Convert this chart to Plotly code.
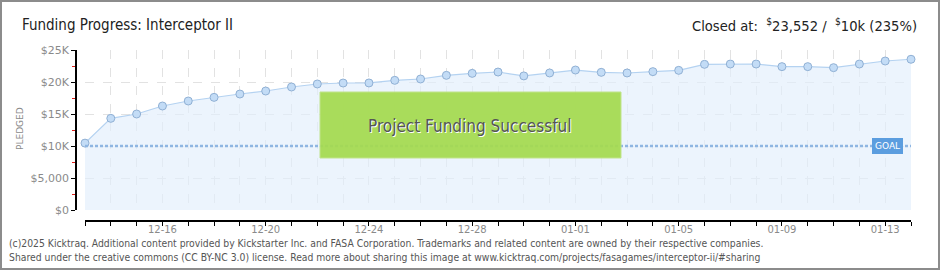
import plotly.graph_objects as go
import pandas as pd

# ---------------- data ----------------
dates = list(pd.date_range("2024-12-13", "2025-01-14", freq="D"))
pledged = [10450, 14320, 15000, 16250, 17030, 17600, 18120, 18590, 19220, 19690,
           19840, 19850, 20260, 20470, 21040, 21350, 21560, 20950, 21410, 21870,
           21510, 21410, 21620, 21820, 22760, 22810, 22810, 22400, 22400, 22240,
           22810, 23280, 23552]
goal = 10000
ytick_vals = [0, 5000, 10000, 15000, 20000, 25000]
ytick_text = ["$0", "$5,000", "$10K", "$15K", "$20K", "$25K"]
title_text = "Funding Progress: Interceptor II"
closed_text = "Closed at:  <sup>$</sup>23,552 /  <sup>$</sup>10k (235%)"
footer_lines = [
    "(c)2025 Kicktraq. Additional content provided by Kickstarter Inc. and FASA Corporation. Trademarks and related content are owned by their respective companies.",
    "Shared under the creative commons (CC BY-NC 3.0) license. Read more about sharing this image at www.kicktraq.com/projects/fasagames/interceptor-ii/#sharing",
]

# ---------------- geometry helpers (pixel -> paper) ----------------
W, H = 940, 270
ML, MR, MT, MB = 76, 29, 50, 49
PW, PH = W - ML - MR, H - MT - MB


def px(x):
    return (x - ML) / PW


def py(y):
    return (H - MB - y) / PH


COND = "DejaVu Sans Condensed, Roboto, sans-serif"
GRID = "#e2e2e2"
TICKFONT = dict(family="DejaVu Sans", size=10, color="#8a8a8a")

fig = go.Figure()

fig.add_trace(go.Scatter(
    x=dates, y=pledged, mode="lines+markers",
    line=dict(color="#b4d2f1", width=1.2),
    marker=dict(size=8, color="#c3dcf6", line=dict(color="#90b0d4", width=1)),
    fill="tozeroy", fillcolor="rgba(226,238,252,0.65)",
    cliponaxis=False, showlegend=False, hoverinfo="skip",
))

fig.add_trace(go.Scatter(
    x=[dates[0], dates[-1]], y=[goal, goal], mode="lines",
    line=dict(color="#8fb6e2", width=2.5, dash="3px,2px"),
    showlegend=False, hoverinfo="skip",
))

fig.update_layout(
    width=W, height=H,
    margin=dict(l=ML, r=MR, t=MT, b=MB, pad=0),
    paper_bgcolor="white", plot_bgcolor="white",
    xaxis=dict(
        type="date", range=[dates[0], dates[-1]],
        domain=[px(85), 1], anchor="free", position=0,
        tick0="2024-12-16", dtick=4 * 86400000, tickformat="%m-%d",
        ticks="outside", ticklen=4, tickcolor="black", tickwidth=1,
        showline=True, linecolor="black", linewidth=1.5,
        showgrid=True, gridcolor=GRID, griddash="dash", gridwidth=1,
        minor=dict(dtick=86400000, ticks="outside", ticklen=4, tickcolor="black",
                   showgrid=True, gridcolor=GRID, griddash="dash", gridwidth=1),
        tickfont=TICKFONT, zeroline=False, fixedrange=True,
        ticklabelstandoff=-5,
    ),
    yaxis=dict(
        range=[0, 25000], domain=[py(210), 1], anchor="free", position=0,
        tickmode="array", tickvals=ytick_vals, ticktext=ytick_text,
        ticks="outside", ticklen=4, tickcolor="black",
        showline=True, linecolor="black", linewidth=1.5,
        showgrid=True, gridcolor=GRID, griddash="dash", gridwidth=1,
        minor=dict(tickmode="linear", tick0=0, dtick=2500, ticks="outside",
                   ticklen=3, tickcolor="#e0201a", showgrid=False),
        tickfont=dict(family="DejaVu Sans", size=11, color="#8a8a8a"),
        zeroline=False, fixedrange=True,
    ),
)

shapes = [
    # funding successful box
    dict(type="rect", xref="paper", yref="paper",
         x0=px(320), x1=px(621), y0=py(158), y1=py(92),
         fillcolor="#a5db4f", line=dict(color="#bde383", width=1),
         opacity=0.93, layer="above"),
    # outer border
    dict(type="rect", xref="paper", yref="paper",
         x0=px(1), x1=px(939), y0=py(269), y1=py(1),
         line=dict(color="#8c8c8c", width=2), fillcolor="rgba(0,0,0,0)", layer="above"),
]
fig.update_layout(shapes=shapes)

ann = [
    dict(text=title_text, xref="paper", yref="paper", x=px(20), y=py(25),
         xanchor="left", yanchor="middle", showarrow=False,
         font=dict(family=COND, size=15, color="#222")),
    dict(text=closed_text, xref="paper", yref="paper", x=px(919), y=py(25),
         xanchor="right", yanchor="middle", showarrow=False,
         font=dict(family=COND, size=14.6, color="#222")),
    dict(text="PLEDGED", xref="paper", yref="paper", x=px(20), y=py(129),
         xanchor="center", yanchor="middle", textangle=-90, showarrow=False,
         font=dict(family="DejaVu Sans", size=9, color="#8a8a8a")),
    dict(text="Project Funding Successful", xref="paper", yref="paper",
         x=px(470), y=py(126), xanchor="center", yanchor="middle", showarrow=False,
         font=dict(family=COND, size=17, color="#555555",
                   shadow="1px 1px 0px #ffffff")),
    dict(text="GOAL", xref="x", yref="y", x=dates[-1] - pd.Timedelta(hours=22), y=goal,
         xanchor="center", yanchor="middle", showarrow=False,
         bgcolor="#5b9ddf", bordercolor="#5b9ddf", borderpad=2,
         font=dict(family="DejaVu Sans", size=9, color="white")),
]
for i, line in enumerate(footer_lines):
    ann.append(dict(text=line, xref="paper", yref="paper", x=px(7), y=py(243 + 14 * i),
                    xanchor="left", yanchor="middle", showarrow=False,
                    font=dict(family=COND, size=10.3, color="#555555")))
fig.update_layout(annotations=ann)

fig.write_html("out.html")
